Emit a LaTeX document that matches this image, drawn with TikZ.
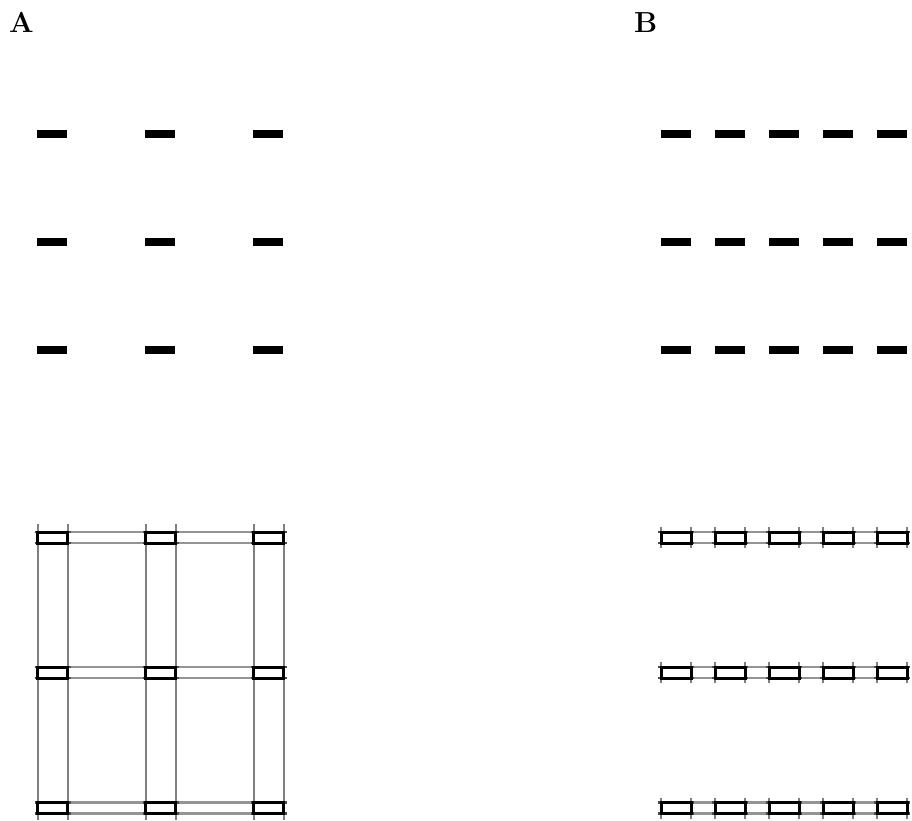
\documentclass[tikz,border=0pt]{standalone}
\begin{document}
\begin{tikzpicture}[x=1pt,y=-1pt,
  bar/.style={fill=black},
  lbl/.style={anchor=base west,font=\fontsize{29}{34}\selectfont\bfseries,inner sep=0pt},
  grayline/.style={draw=black!42,line width=2.2pt},
  vline/.style={draw=black!50,line width=2pt},
  blackline/.style={draw=black,line width=3pt},
  tick/.style={draw=black!70,line width=2.2pt}]
\useasboundingbox (0,0) rectangle (912,820);
\node[lbl] (la) at (9,32) {A};
\node[lbl] (lb) at (634,32) {B};
% top bars
\foreach \y in {134,242,350}{
  \foreach \x in {52,160,268}{\fill[bar] (\x-15,\y-4) rectangle (\x+15,\y+4);}
  \foreach \x in {676,730,784,838,892}{\fill[bar] (\x-15,\y-4) rectangle (\x+15,\y+4);}
}
% bottom A: full grid
\foreach \x in {52.5,160.5,268.5}{
  \draw[vline] (\x-15,524) -- (\x-15,820);
  \draw[vline] (\x+15,524) -- (\x+15,820);
}
\foreach \ya in {532,667,802.5}{
  \pgfmathsetmacro{\yb}{\ya+11}
  \draw[grayline] (34.5,\ya) -- (286.5,\ya);
  \draw[grayline] (34.5,\yb) -- (286.5,\yb);
  \foreach \x in {52.5,160.5,268.5}{
    \draw[tick] (\x-18,\ya) -- (\x+18,\ya);
    \draw[tick] (\x-18,\yb) -- (\x+18,\yb);
    \draw[blackline] (\x-15,\ya) rectangle (\x+15,\yb);
  }
}
% bottom B: rows only
\foreach \ya in {532,667,802.5}{
  \pgfmathsetmacro{\yb}{\ya+11}
  \draw[grayline] (658,\ya) -- (910,\ya);
  \draw[grayline] (658,\yb) -- (910,\yb);
  \foreach \x in {676,730,784,838,892}{
    \draw[vline] (\x-15,\ya-5) -- (\x-15,\yb+5);
    \draw[vline] (\x+15,\ya-5) -- (\x+15,\yb+5);
    \draw[tick] (\x-18,\ya) -- (\x+18,\ya);
    \draw[tick] (\x-18,\yb) -- (\x+18,\yb);
    \draw[blackline] (\x-15,\ya) rectangle (\x+15,\yb);
  }
}
\end{tikzpicture}
\end{document}
